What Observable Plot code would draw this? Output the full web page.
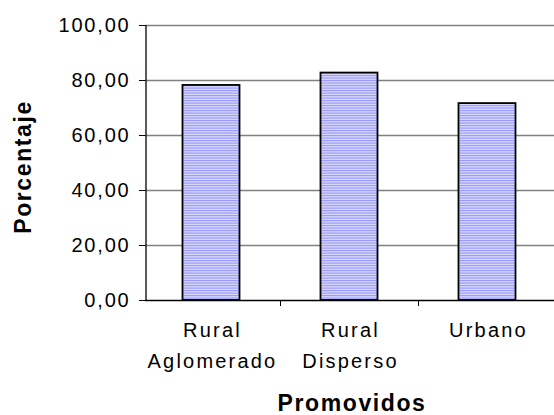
<!DOCTYPE html>
<html>
<head>
<meta charset="utf-8">
<script src="https://cdn.jsdelivr.net/npm/d3@7"></script>
<script src="https://cdn.jsdelivr.net/npm/@observablehq/plot@0.6"></script>
<style>
html, body { margin: 0; padding: 0; background: #fff; }
svg { display: block; }
</style>
</head>
<body>
<div id="chart"></div>
<script>
const categories = ["Rural\nAglomerado", "Rural\nDisperso", "Urbano"];
const values = [78.2, 82.7, 71.6];
const yTicks = [0, 20, 40, 60, 80, 100];
const yLabel = "Porcentaje";
const xLabel = "Promovidos";

const data = categories.map((c, i) => ({cat: c, value: values[i]}));
const fmt = v => v.toFixed(2).replace(".", ",");
const font = "'Liberation Sans', Arial, sans-serif";

const plot = Plot.plot({
  width: 554,
  height: 415,
  marginLeft: 145,
  marginRight: 0,
  marginTop: 25,
  marginBottom: 115,
  style: {fontFamily: font, background: "#fff", color: "#000"},
  x: {domain: categories, range: [141.5, 555.5], padding: 0},
  y: {domain: [0, 100], range: [300, 25]},
  marks: [
    Plot.ruleY(yTicks.filter(d => d > 0), {stroke: "#808080", strokeWidth: 1.6}),
    Plot.barY(data, {x: "cat", y: "value", fill: "url(#stripes)", stroke: "#000", strokeWidth: 1.8, insetLeft: 40.5, insetRight: 40.5}),
    Plot.ruleY([0], {stroke: "#000", strokeWidth: 1.6}),
    Plot.ruleX([categories[0]], {y1: 0, y2: 100, dx: -65.5, stroke: "#000", strokeWidth: 1.3}),
    Plot.ruleX(categories.slice(0, 2), {y1: 0, y2: -2.2, dx: 69, stroke: "#000", strokeWidth: 1}),
    Plot.axisY({ticks: yTicks, tickFormat: fmt, tickSize: 6, tickPadding: 9, fontSize: 20, label: null}),
    Plot.axisX({tickSize: 0, tickPadding: 14, fontSize: 20, lineHeight: 1.55, label: null, dx: 1}),
    Plot.text([yLabel], {frameAnchor: "left", dx: -122, dy: 4, rotate: -90, fontSize: 23, fontWeight: "bold", textAnchor: "middle", lineAnchor: "middle"}),
    Plot.text([xLabel], {frameAnchor: "bottom", dx: 2, dy: 103.5, fontSize: 23, fontWeight: "bold", textAnchor: "middle", lineAnchor: "middle"})
  ]
});

const svg = plot.tagName.toLowerCase() === "svg" ? plot : plot.querySelector("svg");
const ns = "http://www.w3.org/2000/svg";
const defs = document.createElementNS(ns, "defs");
defs.innerHTML = `<pattern id="stripes" patternUnits="userSpaceOnUse" width="8" height="5">
  <rect width="8" height="5" fill="#d8d8ff"/>
  <rect y="0" width="8" height="1.2" fill="#9c9cff"/>
  <rect y="2.5" width="8" height="1.2" fill="#9c9cff"/>
</pattern>`;
svg.insertBefore(defs, svg.firstChild);
const root = d3.select(svg);
root.selectAll("text").style("letter-spacing", "1.8px");
root.selectAll("g[aria-label='x-axis tick label'] text").style("letter-spacing", "2.2px");
root.selectAll("g[font-weight=bold] text, text[font-weight=bold]").style("letter-spacing", "1.6px");
document.getElementById("chart").appendChild(plot);
</script>
</body>
</html>
